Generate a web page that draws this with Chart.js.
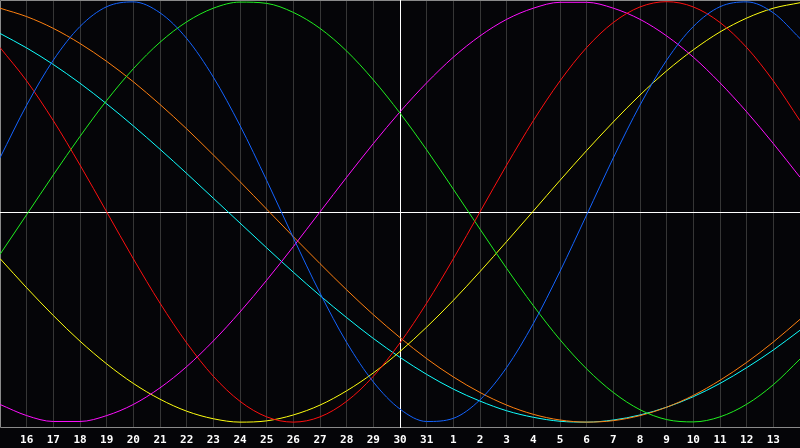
<!DOCTYPE html>
<html>
<head>
<meta charset="utf-8">
<title>Biorhythm</title>
<script src="https://cdn.jsdelivr.net/npm/chart.js@4/dist/chart.umd.min.js"></script>
<style>
    html, body { margin: 0; padding: 0; background: #050508; }
    #wrap { width: 800px; height: 448px; position: relative; }
</style>
</head>
<body>
<div id="wrap"><canvas id="bioChart"></canvas></div>
<script>
// Day labels, one per grid line (first and last are not printed)
const dayLabels = ['15', '16', '17', '18', '19', '20', '21', '22', '23', '24', '25', '26', '27', '28', '29', '30',
    '31', '1', '2', '3', '4', '5', '6', '7', '8', '9', '10', '11', '12', '13', '14'];
const todayIndex = 15;

// Curve values (-100..100) read at each day
const physical = [25.7, 50.8, 72.2, 88.2, 97.6, 99.9, 94.7, 82.5, 64.1, 41.1, 15.0, -12.3, -38.6, -62.1, -80.9, -93.8,
    -99.7, -98.2, -89.4, -74.0, -53.1, -28.3, -1.4, 25.7, 50.8, 72.2, 88.2, 97.6, 99.9, 94.7, 82.5];
const emotional = [78.2, 62.3, 43.4, 22.3, 0, -22.3, -43.4, -62.3, -78.2, -90.1, -97.5, -100, -97.5, -90.1, -78.2, -62.3,
    -43.4, -22.3, 0, 22.3, 43.4, 62.3, 78.2, 90.1, 97.5, 100, 97.5, 90.1, 78.2, 62.3, 43.4];
const intellectual = [-20.2, -1.3, 17.6, 35.9, 53.0, 68.1, 80.7, 90.4, 96.9, 99.8, 99.2, 94.9, 87.3, 76.5, 62.8, 47.0,
    29.5, 10.8, -8.2, -26.9, -44.6, -60.8, -74.7, -85.9, -94.1, -98.8, -99.9, -97.5, -91.5, -82.2, -70.0];
const intuitive = [-91.6, -96.9, -99.7, -99.7, -96.9, -91.6, -83.7, -73.6, -61.4, -47.6, -32.5, -16.5, 0, 16.5, 32.5, 47.6,
    61.4, 73.6, 83.7, 91.6, 96.9, 99.7, 99.7, 96.9, 91.6, 83.7, 73.6, 61.4, 47.6, 32.5, 16.5];
const aesthetic = [-22.2, -36.1, -49.3, -61.5, -72.3, -81.6, -89.1, -94.8, -98.4, -100.0, -99.4, -96.6, -91.9, -85.1, -76.6, -66.4,
    -54.8, -42.1, -28.4, -14.1, 0.4, 15.0, 29.2, 42.8, 55.6, 67.1, 77.1, 85.6, 92.2, 96.9, 99.5];
const awareness = [96.9, 92.9, 87.3, 80.1, 71.6, 61.9, 51.1, 39.5, 27.1, 14.4, 1.3, -11.8, -24.6, -37.1, -48.9, -59.8,
    -69.8, -78.5, -85.9, -91.9, -96.3, -99.0, -100.0, -99.3, -96.9, -92.9, -87.3, -80.1, -71.6, -61.9, -51.1];
const spiritual = [84.9, 78.0, 70.1, 61.2, 51.4, 40.9, 29.8, 18.3, 6.5, -5.3, -17.1, -28.7, -39.8, -50.3, -60.2, -69.2,
    -77.3, -84.3, -90.0, -94.6, -97.7, -99.6, -100.0, -99.0, -96.6, -92.9, -87.9, -81.6, -74.1, -65.7, -56.3];

const seriesNames = ['Physical', 'Emotional', 'Intellectual', 'Intuitive', 'Aesthetic', 'Awareness', 'Spiritual'];
const seriesValues = [physical, emotional, intellectual, intuitive, aesthetic, awareness, spiritual];
const seriesColors = ['#1464ff', '#ff1010', '#20f020', '#ff10ff', '#ffff10', '#ff8010', '#10ffff'];

// Frame + white "today"/zero lines, drawn under the curves
const framePlugin = {
    id: 'frame',
    beforeDatasetsDraw(chart) {
        const { ctx, chartArea: a, scales } = chart;
        ctx.save();
        ctx.lineWidth = 1;
        ctx.strokeStyle = '#8a8a8a';
        ctx.beginPath();
        ctx.moveTo(a.right, a.top + 0.5);
        ctx.lineTo(a.left + 0.5, a.top + 0.5);
        ctx.lineTo(a.left + 0.5, a.bottom - 0.5);
        ctx.lineTo(a.right, a.bottom - 0.5);
        ctx.stroke();

        ctx.strokeStyle = '#ffffff';
        const x0 = Math.round(scales.x.getPixelForValue(todayIndex)) + 0.5;
        const y0 = Math.round(scales.y.getPixelForValue(0)) + 0.5;
        ctx.beginPath();
        ctx.moveTo(x0, a.top);
        ctx.lineTo(x0, a.bottom);
        ctx.moveTo(a.left, y0);
        ctx.lineTo(a.right, y0);
        ctx.stroke();
        ctx.restore();
    }
};

const ctx = document.getElementById('bioChart').getContext('2d');

const bioChart = new Chart(ctx, {
    type: 'line',
    data: {
        datasets: seriesValues.map((vals, i) => ({
            label: seriesNames[i],
            data: vals.map((v, d) => ({ x: d, y: v })),
            borderColor: seriesColors[i],
            borderWidth: 1,
            pointRadius: 0,
            cubicInterpolationMode: 'monotone',
            fill: false
        }))
    },
    options: {
        responsive: true,
        maintainAspectRatio: false,
        animation: false,
        layout: { padding: 0 },
        plugins: {
            legend: { display: false },
            tooltip: { enabled: false }
        },
        scales: {
            x: {
                type: 'linear',
                min: 0,
                max: dayLabels.length - 1,
                afterFit: (scale) => {
                    scale.height = 20;
                    scale.paddingLeft = 0;
                    scale.paddingRight = 0;
                },
                border: { display: false },
                grid: {
                    drawTicks: false,
                    color: (c) => (c.index === 0 || c.index === todayIndex) ? 'rgba(0,0,0,0)' : '#363636'
                },
                ticks: {
                    stepSize: 1,
                    autoSkip: false,
                    maxRotation: 0,
                    padding: 6,
                    color: '#ffffff',
                    font: { family: 'DejaVu Sans Mono', size: 11, weight: 'bold' },
                    callback: function(value) {
                        if (value === 0 || value === dayLabels.length - 1) return '';
                        return dayLabels[value];
                    }
                }
            },
            y: {
                display: false,
                min: -102.8,
                max: 100.8
            }
        }
    },
    plugins: [framePlugin]
});
</script>
</body>
</html>
